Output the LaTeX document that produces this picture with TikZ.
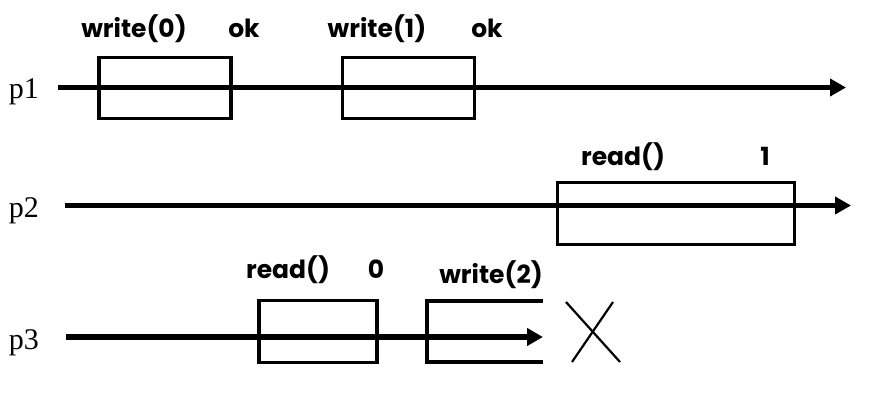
\documentclass[tikz,border=0pt]{standalone}
\usepackage{fontspec}
\setmainfont{Liberation Serif}
\newfontfamily\labelfont{Poppins}
\usetikzlibrary{arrows.meta}
\tikzset{
  procline/.style={line width=5.5pt, -{Triangle[length=16pt,width=17pt]}},
  opbox/.style={draw, line width=3.5pt, fill=none, inner sep=0pt},
  oplabel/.style={anchor=base, inner sep=0pt, font=\labelfont\bfseries\fontsize{25}{28}\selectfont},
  plabel/.style={anchor=base, inner sep=0pt, font=\fontsize{30}{34}\selectfont},
}
\begin{document}
\begin{tikzpicture}[x=1pt,y=-1pt]
\useasboundingbox (0,0) rectangle (870,404);
% process labels
\node[plabel] (lp1) at (24,99) {p1};
\node[plabel] (lp2) at (24,217) {p2};
\node[plabel] (lp3) at (24,349) {p3};
% process lines
\coordinate (p1s) at (58,87.5);
\coordinate (p1e) at (846,87.5);
\coordinate (p2s) at (65,205.5);
\coordinate (p2e) at (851,205.5);
\coordinate (p3s) at (66,337);
\coordinate (p3e) at (543,337);
% boxes
\node[opbox, minimum width=132pt, minimum height=61pt] (b1) at (165,88) {};
\node[opbox, minimum width=132pt, minimum height=61pt] (b2) at (408.5,88) {};
\node[opbox, minimum width=237pt, minimum height=62pt] (b3) at (676,213.5) {};
\node[opbox, minimum width=118pt, minimum height=62pt] (b4) at (318,331.5) {};
% open box for write(2)
\coordinate (o1) at (543,301);
\coordinate (o2) at (427,301);
\coordinate (o3) at (427,362);
\coordinate (o4) at (543,362);
\draw[line width=3.5pt, line join=miter] (o1) -- (o2) -- (o3) -- (o4);
% lines on top
\draw[procline] (p1s) -- (p1e);
\draw[procline] (p2s) -- (p2e);
\draw[procline] (p3s) -- (p3e);
% crash mark
\coordinate (x1) at (566,302);
\coordinate (x2) at (620,362);
\coordinate (x3) at (613,302);
\coordinate (x4) at (572,362);
\draw[line width=2.2pt] (x1) -- (x2);
\draw[line width=2.2pt] (x3) -- (x4);
% operation labels
\node[oplabel] (t1) at (134,38) {write(0)};
\node[oplabel] (t2) at (244,38) {ok};
\node[oplabel] (t3) at (377,38) {write(1)};
\node[oplabel] (t4) at (487,38) {ok};
\node[oplabel] (t5) at (623,165) {read()};
\node[oplabel] (t6) at (765,165) {1};
\node[oplabel] (t7) at (288,278) {read()};
\node[oplabel] (t8) at (376,278) {0};
\node[oplabel] (t9) at (491,283) {write(2)};
\end{tikzpicture}
\end{document}
